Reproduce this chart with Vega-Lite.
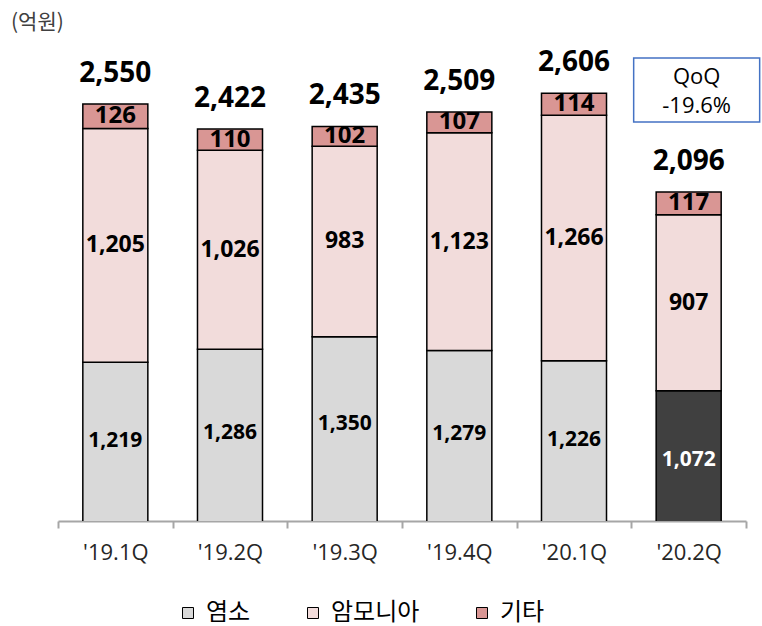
{
  "$schema": "https://vega.github.io/schema/vega-lite/v6.json",
  "width": 688,
  "height": 446,
  "autosize": {"type": "none"},
  "padding": {"left": 58, "top": 75, "right": 16, "bottom": 105},
  "background": "white",
  "title": {"text": "(억원)", "anchor": "start", "frame": "group", "orient": "top", "font": "Noto Sans CJK KR", "fontSize": 21, "fontWeight": "normal", "color": "#404040", "dx": -47, "dy": -16, "offset": 0},
  "config": {
    "view": {"stroke": null},
    "axisX": {"domainColor": "#A6A6A6", "domainWidth": 2, "tickColor": "#A6A6A6", "tickWidth": 2, "tickSize": 7, "tickBand": "extent", "labelFont": "Open Sans", "labelFontSize": 22, "labelColor": "#262626", "labelPadding": 14, "labelAngle": 0, "grid": false, "zindex": 1},
    "legend": {"orient": "none", "legendX": 118, "legendY": 526, "direction": "horizontal", "columns": 3, "columnPadding": 50, "symbolType": "square", "symbolSize": 121, "symbolStrokeColor": "black", "symbolStrokeWidth": 1, "labelFont": "Noto Sans CJK KR", "labelFontSize": 24, "labelColor": "#000000", "labelOffset": 6, "padding": 0}
  },
  "datasets": {
    "sales": [
      {"quarter": "'19.1Q", "cat": "염소", "value": 1219},
      {"quarter": "'19.1Q", "cat": "암모니아", "value": 1205},
      {"quarter": "'19.1Q", "cat": "기타", "value": 126},
      {"quarter": "'19.2Q", "cat": "염소", "value": 1286},
      {"quarter": "'19.2Q", "cat": "암모니아", "value": 1026},
      {"quarter": "'19.2Q", "cat": "기타", "value": 110},
      {"quarter": "'19.3Q", "cat": "염소", "value": 1350},
      {"quarter": "'19.3Q", "cat": "암모니아", "value": 983},
      {"quarter": "'19.3Q", "cat": "기타", "value": 102},
      {"quarter": "'19.4Q", "cat": "염소", "value": 1279},
      {"quarter": "'19.4Q", "cat": "암모니아", "value": 1123},
      {"quarter": "'19.4Q", "cat": "기타", "value": 107},
      {"quarter": "'20.1Q", "cat": "염소", "value": 1226},
      {"quarter": "'20.1Q", "cat": "암모니아", "value": 1266},
      {"quarter": "'20.1Q", "cat": "기타", "value": 114},
      {"quarter": "'20.2Q", "cat": "염소", "value": 1072},
      {"quarter": "'20.2Q", "cat": "암모니아", "value": 907},
      {"quarter": "'20.2Q", "cat": "기타", "value": 117}
    ],
    "note": [{"quarter": "'20.2Q", "label": "QoQ", "change": "-19.6%"}]
  },
  "layer": [
    {
      "data": {"name": "sales"},
      "mark": {"type": "bar", "stroke": "black", "strokeWidth": 1.5, "clip": true, "width": {"band": 0.567}},
      "encoding": {
        "x": {"field": "quarter", "type": "nominal", "sort": null, "title": null, "scale": {"paddingInner": 0, "paddingOuter": 0}},
        "y": {"field": "value", "type": "quantitative", "stack": "zero", "scale": {"domain": [400, 2700], "zero": false, "nice": false}, "axis": null},
        "color": {
          "condition": {"test": "datum.cat === '염소' && datum.quarter === \"'20.2Q\"", "value": "#404040"},
          "field": "cat", "type": "nominal", "title": null,
          "sort": ["염소", "암모니아", "기타"],
          "scale": {"domain": ["염소", "암모니아", "기타"], "range": ["#D9D9D9", "#F2DCDB", "#D99694"]}
        },
        "order": {"field": "cat", "sort": "descending"}
      }
    },
    {
      "data": {"name": "sales"},
      "mark": {"type": "text", "font": "Open Sans", "fontWeight": "bold", "baseline": "middle", "align": "center"},
      "encoding": {
        "x": {"field": "quarter", "type": "nominal", "sort": null, "title": null},
        "y": {"field": "value", "type": "quantitative", "stack": "zero", "bandPosition": 0.5},
        "detail": {"field": "cat"},
        "order": {"field": "cat", "sort": "descending"},
        "text": {"condition": {"test": "datum.cat === '염소'", "value": ""}, "field": "value", "type": "quantitative", "format": ","},
        "size": {"condition": {"test": "datum.cat === '기타'", "value": 24}, "value": 23},
        "color": {"value": "#000000"}
      }
    },
    {
      "data": {"name": "sales"},
      "transform": [{"filter": "datum.cat === '염소'"}],
      "mark": {"type": "text", "font": "Open Sans", "fontWeight": "bold", "fontSize": 21, "baseline": "middle", "align": "center"},
      "encoding": {
        "x": {"field": "quarter", "type": "nominal", "sort": null, "title": null},
        "y": {"field": "value", "type": "quantitative", "stack": "zero", "bandPosition": 0.665},
        "text": {"field": "value", "type": "quantitative", "format": ","},
        "color": {"condition": {"test": "datum.quarter === \"'20.2Q\"", "value": "#FFFFFF"}, "value": "#000000"}
      }
    },
    {
      "data": {"name": "sales"},
      "mark": {"type": "text", "font": "Open Sans", "fontWeight": "bold", "fontSize": 28, "baseline": "alphabetic", "align": "center", "dy": -22, "color": "#000000"},
      "encoding": {
        "x": {"field": "quarter", "type": "nominal", "sort": null, "title": null},
        "y": {"aggregate": "sum", "field": "value", "type": "quantitative"},
        "text": {"aggregate": "sum", "field": "value", "type": "quantitative", "format": ","}
      }
    },
    {
      "data": {"name": "note"},
      "mark": {"type": "bar", "width": 126, "xOffset": 8, "fill": "white", "stroke": "#4472C4", "strokeWidth": 1.5},
      "encoding": {
        "x": {"field": "quarter", "type": "nominal", "sort": null, "title": null},
        "y": {"datum": 2788},
        "y2": {"datum": 2458}
      }
    },
    {
      "data": {"name": "note"},
      "mark": {"type": "text", "font": "Open Sans", "fontSize": 22, "baseline": "middle", "align": "center", "xOffset": 8, "color": "#000000"},
      "encoding": {
        "x": {"field": "quarter", "type": "nominal", "sort": null, "title": null},
        "y": {"datum": 2690},
        "text": {"field": "label"}
      }
    },
    {
      "data": {"name": "note"},
      "mark": {"type": "text", "font": "Open Sans", "fontSize": 22, "baseline": "middle", "align": "center", "xOffset": 8, "color": "#000000"},
      "encoding": {
        "x": {"field": "quarter", "type": "nominal", "sort": null, "title": null},
        "y": {"datum": 2538},
        "text": {"field": "change"}
      }
    }
  ]
}
